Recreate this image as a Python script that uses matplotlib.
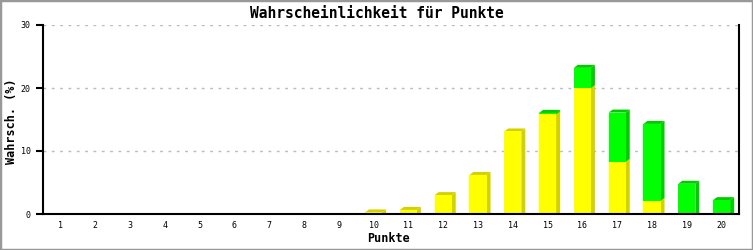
import matplotlib
matplotlib.use('Agg')
import matplotlib.pyplot as plt
from matplotlib.patches import Polygon, Rectangle

# Werte
punkte = list(range(1, 21))
gelb = [0, 0, 0, 0, 0, 0, 0, 0, 0, 0.25, 0.65, 3.0, 6.2, 13.1, 15.8, 20.0, 8.3, 2.1, 0, 0]
gruen = [0, 0, 0, 0, 0, 0, 0, 0, 0, 0, 0, 0, 0, 0, 0.25, 3.2, 7.8, 12.2, 4.8, 2.2]
y_ticks = [0, 10, 20, 30]

FONT = 'DejaVu Sans Mono'
W, H = 753, 250

fig = plt.figure(figsize=(W / 100, H / 100), dpi=100)
ax = fig.add_axes([43 / W, 36 / H, 696 / W, 189 / H])
ax.set_xlim(0.5, 20.5)
ax.set_ylim(0, 30)

# Tiefe des 3D-Effekts in Pixeln -> Dateneinheiten
px_x = 20.0 / 696
px_y = 30.0 / 189
dx, dy = 4 * px_x, 3 * px_y
bw = 0.49

for y in y_ticks[1:]:
    ax.axhline(y, color='#bbbbbb', linestyle=(0, (2, 4)), linewidth=1, zorder=1)


def segment(x, y0, y1, dark, bottom):
    if y1 - y0 <= 0:
        return
    xl, xr = x - bw / 2, x + bw / 2
    yb = y0 if bottom else y0 + dy
    # Seitenfläche
    ax.add_patch(Polygon([(xr, y0), (xr + dx, yb), (xr + dx, y1 + dy), (xr, y1)],
                         closed=True, facecolor=dark, edgecolor='none', zorder=3))
    # Deckfläche
    ax.add_patch(Polygon([(xl, y1), (xl + dx, y1 + dy), (xr + dx, y1 + dy), (xr, y1)],
                         closed=True, facecolor=dark, edgecolor='none', zorder=3))


for i, x in enumerate(punkte):
    g, gr = gelb[i], gruen[i]
    segment(x, 0, g, '#d2d200', True)
    segment(x, g, g + gr, '#00cc00', g == 0)

ax.bar(punkte, gelb, width=bw, color='#ffff00', zorder=4)
ax.bar(punkte, gruen, width=bw, bottom=gelb, color='#00ff00', zorder=4)

ax.spines['top'].set_visible(False)
for s in ['left', 'right', 'bottom']:
    ax.spines[s].set_linewidth(1.5)
    ax.spines[s].set_zorder(5)

ax.set_xticks(punkte)
ax.set_xticklabels([str(p) for p in punkte], fontsize=6, family=FONT)
ax.set_yticks(y_ticks)
ax.set_yticklabels([str(v) for v in y_ticks], fontsize=6, family=FONT)
ax.tick_params(axis='x', length=0, pad=5)
ax.tick_params(axis='y', length=5, width=1.5, pad=4)

fig.text(389 / W, 1 - 239 / H, 'Punkte', ha='center', va='center',
         fontsize=8.5, family=FONT, fontweight='bold')
fig.text(12 / W, 1 - 121 / H, 'Wahrsch. (%)', ha='center', va='center', rotation=90,
         fontsize=8.5, family=FONT, fontweight='bold')
fig.text(0.5, 1 - 14 / H, 'Wahrscheinlichkeit für Punkte', ha='center', va='center',
         fontsize=10.5, family=FONT, fontweight='bold')

fig.patches.append(Rectangle((0, 0), 1, 1, transform=fig.transFigure, fill=False,
                             edgecolor='#999999', linewidth=2.5))

fig.savefig('out.png', dpi=100)
